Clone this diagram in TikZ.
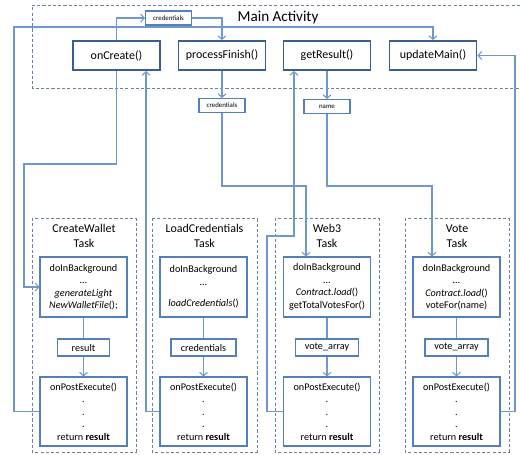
\documentclass[tikz,border=0pt]{standalone}
\usepackage{fontspec}
\setmainfont{Carlito}
\usetikzlibrary{arrows.meta,calc}

\definecolor{mainblue}{RGB}{58,95,140}
\definecolor{boxblue}{RGB}{84,128,185}
\definecolor{linkblue}{RGB}{110,152,206}
\definecolor{frameblue}{RGB}{105,130,165}

\tikzset{
  mainbox/.style={draw=mainblue, line width=1.1pt, minimum width=1.74cm, minimum height=0.58cm, inner sep=0pt, font=\fontsize{6.8}{8}\selectfont},
  codebox/.style={draw=boxblue, line width=0.6pt, minimum width=1.74cm, inner sep=0pt, align=center, font=\fontsize{5.8}{7.1}\selectfont},
  valbox/.style={draw=boxblue, line width=0.6pt, minimum height=0.34cm, inner sep=0pt, font=\fontsize{5.8}{7.1}\selectfont},
  tagbox/.style={draw=boxblue, line width=0.6pt, minimum width=0.92cm, minimum height=0.28cm, inner sep=0pt, font=\fontsize{3.9}{4.5}\selectfont},
  tasktitle/.style={align=center, inner sep=0pt, font=\fontsize{6.8}{8.2}\selectfont},
  taskframe/.style={draw=frameblue, line width=0.5pt, dash pattern=on 1.8pt off 1.2pt},
  link/.style={draw=linkblue, line width=0.6pt},
  tip/.style={-{Straight Barb[length=2pt,width=4.5pt]}}
}

\begin{document}
\begin{tikzpicture}
\useasboundingbox (0,0) rectangle (10.40,-9.08);

\draw[taskframe] (10.40,-0.10) -- (0.64,-0.10) -- (0.64,-1.76) -- (10.40,-1.76);
\node[inner sep=0pt, font=\fontsize{8.6}{10}\selectfont] (mainlbl) at (5.56,-0.34) {Main Activity};

\node[mainbox] (oncreate) at (2.33,-1.11) {onCreate()};
\node[mainbox] (procfin) at (4.44,-1.11) {processFinish()};
\node[mainbox] (getres) at (6.54,-1.11) {getResult()};
\node[mainbox] (updmain) at (8.66,-1.11) {updateMain()};

\node[tagbox] (credtop) at (3.37,-0.36) {credentials};
\node[tagbox] (credmid) at (4.44,-2.11) {credentials};
\node[tagbox] (name) at (6.54,-2.13) {name};

\draw[taskframe] (0.64,-4.36) rectangle (2.72,-9.04);
\draw[taskframe] (3.04,-4.36) rectangle (5.14,-9.04);
\draw[taskframe] (5.50,-4.36) rectangle (7.58,-9.04);
\draw[taskframe] (8.10,-4.36) rectangle (10.18,-9.04);

\node[tasktitle] (cwtitle) at (1.68,-4.72) {CreateWallet\\Task};
\node[tasktitle] (lctitle) at (4.09,-4.72) {LoadCredentials\\Task};
\node[tasktitle] (w3title) at (6.54,-4.72) {Web3\\Task};
\node[tasktitle] (vttitle) at (9.14,-4.72) {Vote\\Task};

\node[codebox, minimum height=1.20cm] (cwbg) at (1.67,-5.74) {doInBackground\\\ldots\\\textit{generateLight}\\\textit{NewWalletFile}();};
\node[codebox, minimum height=1.20cm] (lcbg) at (4.07,-5.74) {doInBackground\\\ldots\\[5pt]\textit{loadCredentials}()};
\node[codebox, minimum height=1.20cm] (w3bg) at (6.54,-5.74) {doInBackground\\\ldots\\\textit{Contract.load}()\\getTotalVotesFor()};
\node[codebox, minimum height=1.20cm] (vtbg) at (9.13,-5.74) {doInBackground\\\ldots\\\textit{Contract.load}()\\voteFor(name)};

\node[valbox, minimum width=1.04cm] (cwres) at (1.67,-6.95) {result};
\node[valbox, minimum width=1.30cm] (lcres) at (4.07,-6.95) {credentials};
\node[valbox, minimum width=1.26cm] (w3res) at (6.54,-6.95) {vote\_array};
\node[valbox, minimum width=1.26cm] (vtres) at (9.13,-6.95) {vote\_array};

\node[codebox, minimum height=1.38cm] (cwpost) at (1.67,-8.23) {onPostExecute()\\.\\.\\.\\return \textbf{result}};
\node[codebox, minimum height=1.38cm] (lcpost) at (4.07,-8.23) {onPostExecute()\\.\\.\\.\\return \textbf{result}};
\node[codebox, minimum height=1.38cm] (w3post) at (6.54,-8.23) {onPostExecute()\\.\\.\\.\\return \textbf{result}};
\node[codebox, minimum height=1.38cm] (vtpost) at (9.13,-8.23) {onPostExecute()\\.\\.\\.\\return \textbf{result}};

\draw[link] (cwbg.south) -- (cwres.north);
\draw[link,tip] (cwres.south) -- (cwpost.north);
\draw[link] (lcbg.south) -- (lcres.north);
\draw[link,tip] (lcres.south) -- (lcpost.north);
\draw[link] (w3bg.south) -- (w3res.north);
\draw[link,tip] (w3res.south) -- (w3post.north);
\draw[link] (vtbg.south) -- (vtres.north);
\draw[link,tip] (vtres.south) -- (vtpost.north);

\draw[link,tip] (oncreate.north) |- (credtop.west);
\draw[link,tip] (credtop.east) -| (procfin.north);
\draw[link,tip] (procfin.south) -- (credmid.north);
\draw[link,tip] (getres.south) -- (name.north);
\draw[link,tip] (credmid.south) |- (6.12,-3.72) -- ([xshift=-0.42cm]w3bg.north);
\draw[link,tip] (name.south) |- (8.64,-3.72) -- ([xshift=-0.49cm]vtbg.north);
\draw[link,tip] (oncreate.south) |- (0.48,-3.28) |- (cwbg.west);
\draw[link,tip] (cwpost.west) -| (0.28,-0.54) -| (updmain.north);
\draw[link,tip] (lcpost.west) -| ([xshift=0.59cm]oncreate.south);
\draw[link,tip] (w3post.west) -| (5.34,-4.72) -| ([xshift=-0.66cm]getres.south);
\draw[link,tip] (vtpost.east) -| (10.30,-1.11) -- (updmain.east);
\end{tikzpicture}
\end{document}
